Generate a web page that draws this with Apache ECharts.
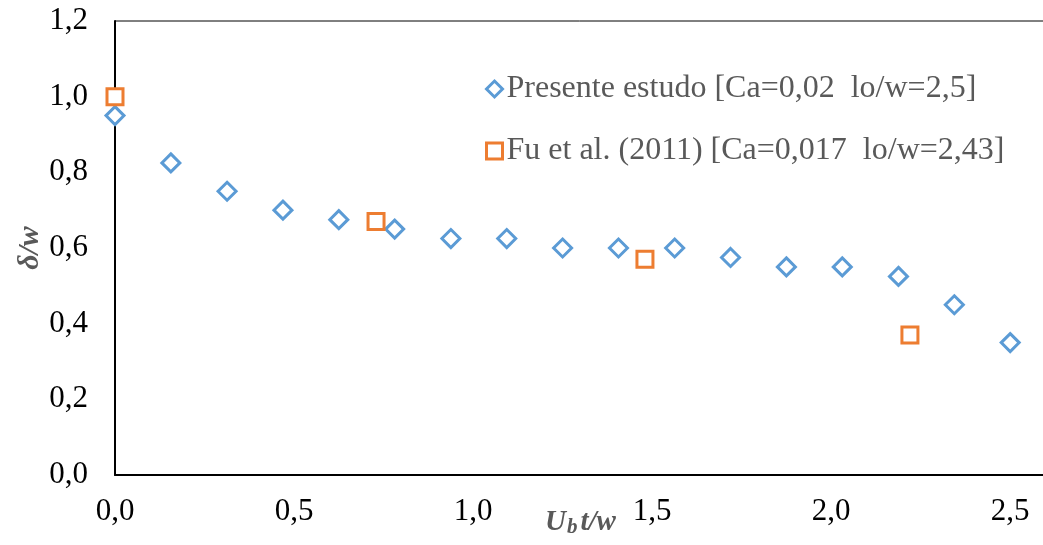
<!DOCTYPE html>
<html>
<head>
<meta charset="utf-8">
<script src="https://cdn.jsdelivr.net/npm/echarts@6/dist/echarts.min.js"></script>
<style>
  html, body { margin: 0; padding: 0; background: #fff; }
  #chart { width: 1043px; height: 545px; }
</style>
</head>
<body>
<div id="chart"></div>
<script>
// Dimensionless time U_b t/w and gap thickness δ/w for the present study
const presenteX = [0, 0.156, 0.313, 0.469, 0.625, 0.781, 0.938, 1.094, 1.25, 1.406, 1.563, 1.719, 1.875, 2.031, 2.188, 2.344, 2.5];
const presenteY = [0.95, 0.825, 0.75, 0.70, 0.675, 0.65, 0.625, 0.625, 0.60, 0.60, 0.60, 0.575, 0.55, 0.55, 0.525, 0.45, 0.35];

// Reference data from Fu et al. (2011)
const fuX = [0, 0.729, 1.48, 2.22];
const fuY = [1.0, 0.67, 0.57, 0.37];

const seriesNames = ['Presente estudo [Ca=0,02  lo/w=2,5]', 'Fu et al. (2011) [Ca=0,017  lo/w=2,43]'];
const xTicks = [0, 0.5, 1.0, 1.5, 2.0, 2.5];

const FONT = '"Liberation Serif", "Times New Roman", serif';
const FS = 31;
const fmt = v => v.toFixed(1).replace('.', ',');
const zip = (xs, ys) => xs.map((x, i) => [x, ys[i]]);

const titleStyle = { fontFamily: FONT, fontWeight: 'bold', fontStyle: 'italic', color: '#595959' };

const chart = echarts.init(document.getElementById('chart'), null, { renderer: 'canvas' });
chart.setOption({
  animation: false,
  backgroundColor: '#ffffff',
  grid: {
    left: 115, top: 21, bottom: 70, right: -3,
    containLabel: false,
    outerBoundsMode: 'none',
    show: true, borderColor: '#000', borderWidth: 1, backgroundColor: 'transparent'
  },
  legend: {
    orient: 'vertical',
    left: 480, top: 68,
    itemWidth: 16, itemHeight: 16,
    itemGap: 30,
    itemStyle: { borderWidth: 3 },
    textStyle: { fontFamily: FONT, fontSize: 32, color: '#595959', padding: [0, 0, 0, -1] },
    data: [
      { name: seriesNames[0], icon: 'diamond' },
      { name: seriesNames[1], icon: 'rect' }
    ]
  },
  xAxis: {
    type: 'value',
    min: 0, max: 2.6, interval: 0.5,
    name: '{u|U}{b|b}{t|t/w}',
    nameLocation: 'middle',
    nameMoveOverlap: false,
    nameGap: 33,
    nameTextStyle: {
      rich: {
        u: Object.assign({ fontSize: 29, lineHeight: 30 }, titleStyle),
        b: Object.assign({ fontSize: 21, lineHeight: 21, verticalAlign: 'bottom', padding: [12, 3, 0, 1] }, titleStyle),
        t: Object.assign({ fontSize: 29, lineHeight: 30 }, titleStyle)
      }
    },
    axisLine: { show: true, lineStyle: { color: '#000', width: 2 } },
    axisTick: { show: false },
    splitLine: { show: false },
    axisLabel: {
      fontFamily: FONT, fontSize: FS, color: '#000', margin: 21,
      showMaxLabel: false,
      formatter: v => xTicks.some(t => Math.abs(t - v) < 1e-9) ? fmt(v) : ''
    }
  },
  yAxis: {
    type: 'value',
    min: 0, max: 1.2, interval: 0.2,
    name: 'δ/w',
    nameLocation: 'middle',
    nameMoveOverlap: false,
    nameGap: 70,
    nameTextStyle: Object.assign({ fontSize: 30 }, titleStyle),
    axisLine: { show: true, lineStyle: { color: '#000', width: 2 } },
    axisTick: { show: false },
    splitLine: { show: false },
    axisLabel: { fontFamily: FONT, fontSize: FS, color: '#000', margin: 27, formatter: fmt }
  },
  series: [
    {
      name: seriesNames[0],
      type: 'scatter',
      symbol: 'diamond',
      symbolSize: 18,
      data: zip(presenteX, presenteY),
      itemStyle: { color: '#ffffff', borderColor: '#5B9BD5', borderWidth: 3, opacity: 1 },
      z: 3
    },
    {
      name: seriesNames[1],
      type: 'scatter',
      symbol: 'rect',
      symbolSize: 16,
      data: zip(fuX, fuY),
      itemStyle: { color: '#ffffff', borderColor: '#ED7D31', borderWidth: 3, opacity: 1 },
      z: 4
    }
  ]
});
</script>
</body>
</html>
